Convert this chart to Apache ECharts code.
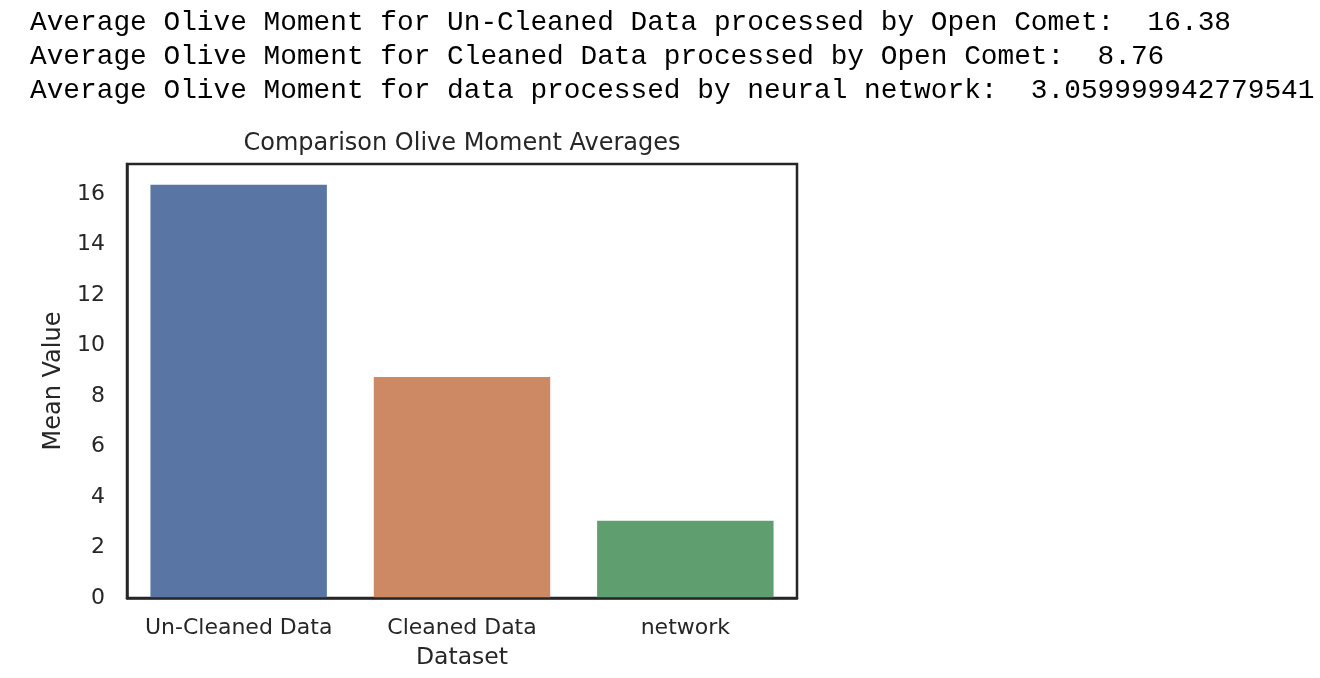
<!DOCTYPE html>
<html>
<head>
<meta charset="utf-8">
<script src="https://cdn.jsdelivr.net/npm/echarts@6/dist/echarts.min.js"></script>
<style>
html,body{margin:0;padding:0;background:#fff;}
#chart{width:1320px;height:678px;}
</style>
</head>
<body>
<div id="chart"></div>
<script>
// ---- data ----
const categories = ['Un-Cleaned Data', 'Cleaned Data', 'network'];
const values = [16.38, 8.76, 3.059999942779541];
const printPrefixes = [
  'Average Olive Moment for Un-Cleaned Data processed by Open Comet:  ',
  'Average Olive Moment for Cleaned Data processed by Open Comet:  ',
  'Average Olive Moment for data processed by neural network:  '
];
const yTicks = [0, 2, 4, 6, 8, 10, 12, 14, 16];
const chartTitle = 'Comparison Olive Moment Averages';
const xName = 'Dataset';
const yName = 'Mean Value';

// ---- style ----
const palette = ['#5975a4', '#cc8963', '#5f9e6e'];
const ink = '#262626';
const sans = 'DejaVu Sans';

const chart = echarts.init(document.getElementById('chart'), null, {renderer: 'canvas'});

const printTexts = printPrefixes.map((p, i) => ({
  type: 'text',
  x: 30,
  y: 23 + i * 34,
  style: {
    text: p + String(values[i]),
    font: '27.8px "Liberation Mono", "Courier New", monospace',
    fill: '#000',
    textVerticalAlign: 'middle'
  }
}));

chart.setOption({
  animation: false,
  backgroundColor: '#fff',
  grid: {
    left: 127, right: 523, top: 164, bottom: 80,
    show: true, borderColor: ink, borderWidth: 2.5, backgroundColor: 'transparent'
  },
  xAxis: {
    type: 'category',
    data: categories,
    name: xName,
    nameLocation: 'middle',
    nameGap: 48,
    nameTextStyle: {fontFamily: sans, fontSize: 23.5, color: ink},
    axisLine: {show: true, lineStyle: {color: ink, width: 2.5}},
    axisTick: {show: false},
    axisLabel: {fontFamily: sans, fontSize: 22, color: ink, margin: 19, interval: 0, hideOverlap: false},
    splitLine: {show: false},
    z: 10
  },
  yAxis: {
    type: 'value',
    min: 0,
    max: 17.199,
    interval: 2,
    name: yName,
    nameLocation: 'middle',
    nameGap: 59,
    nameTextStyle: {fontFamily: sans, fontSize: 24, color: ink},
    axisLine: {show: true, lineStyle: {color: ink, width: 2.5}},
    axisTick: {show: false},
    axisLabel: {
      fontFamily: sans, fontSize: 22, color: ink, margin: 22,
      showMaxLabel: false,
      formatter: v => (yTicks.indexOf(v) >= 0 ? String(v) : '')
    },
    splitLine: {show: false},
    z: 10
  },
  series: [{
    type: 'bar',
    barWidth: '79%',
    data: values.map((v, i) => ({value: v, itemStyle: {color: palette[i]}})),
    z: 2
  }],
  graphic: printTexts.concat([{
    type: 'text',
    x: 462,
    y: 144,
    style: {
      text: chartTitle,
      font: '24px "DejaVu Sans"',
      fill: ink,
      textAlign: 'center',
      textVerticalAlign: 'middle'
    }
  }])
});
</script>
</body>
</html>
